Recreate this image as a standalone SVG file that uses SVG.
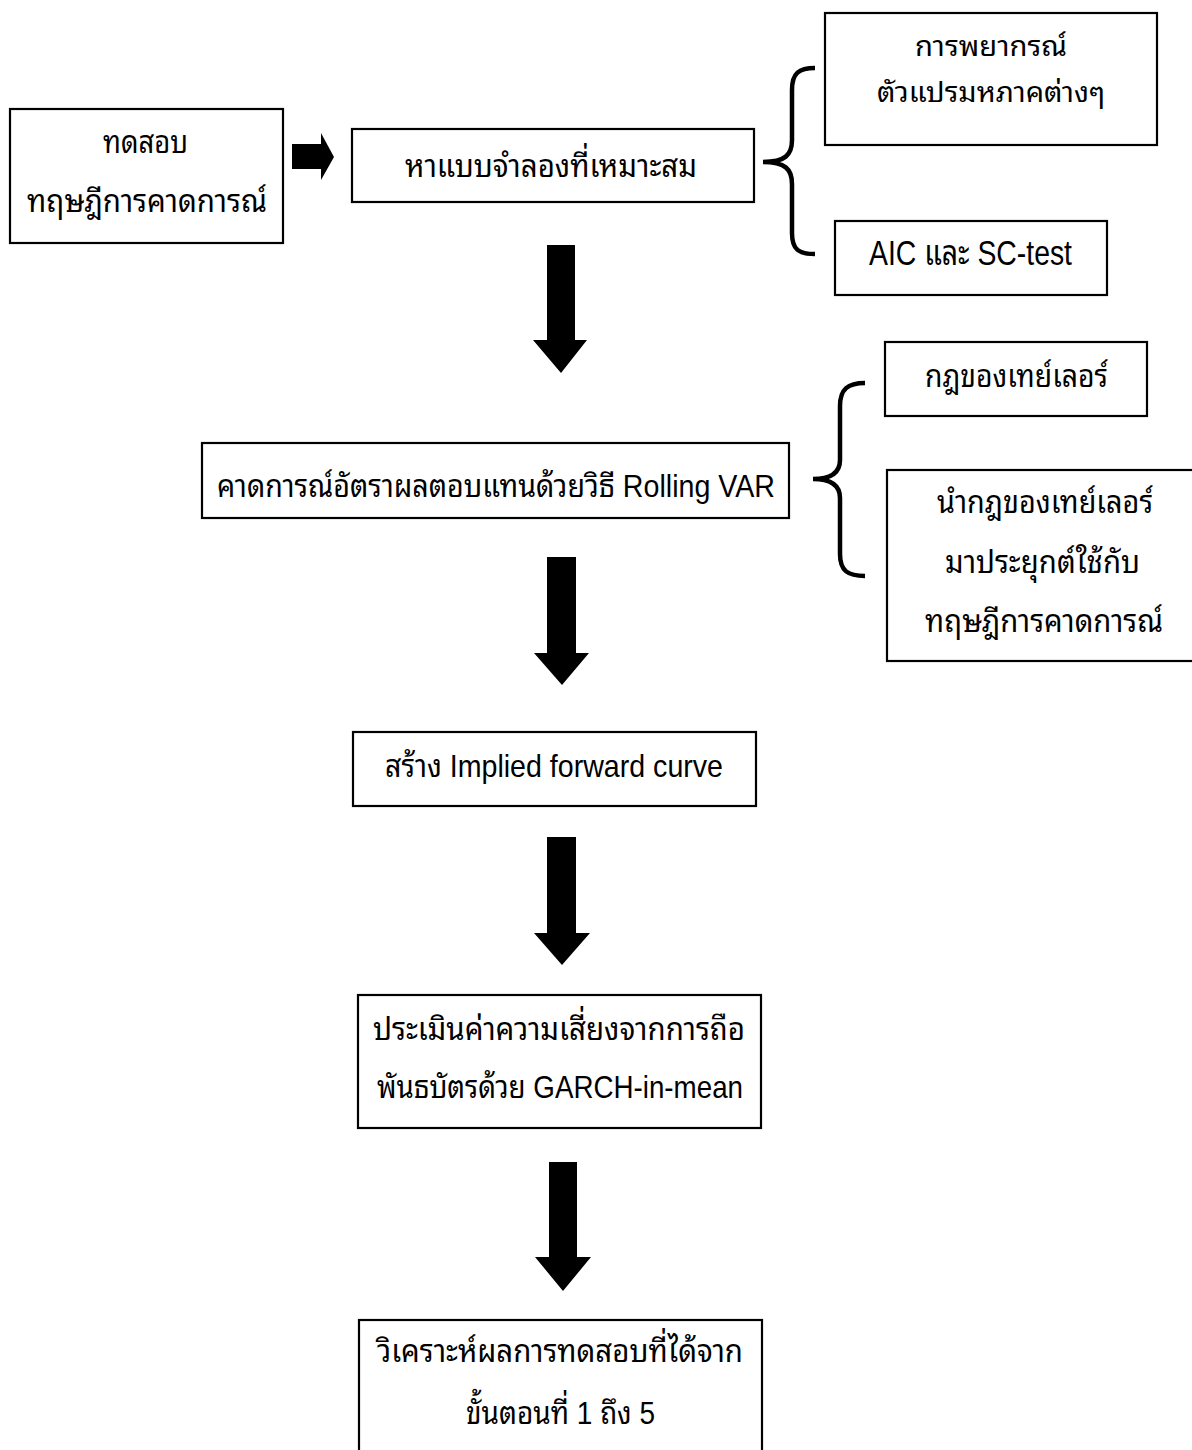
<svg xmlns="http://www.w3.org/2000/svg" width="1192" height="1450" viewBox="0 0 1192 1450">
<style>
.bg{fill:#fff}
.box{fill:#fff;stroke:#000;stroke-width:2.2}
.th{font-family:"Noto Sans Thai Looped","Loma","Garuda","Noto Sans Thai","Noto Sans","DejaVu Sans",sans-serif;font-size:32px;fill:#000}
.mix{font-family:"Liberation Sans","Noto Sans Thai Looped","Loma","Garuda","Noto Sans Thai",sans-serif;font-size:32px;fill:#000}
.arrow{fill:#000;stroke:none}
.brace{fill:none;stroke:#000;stroke-width:4.5;stroke-linecap:butt}
</style>
<rect class="bg" x="0" y="0" width="1192" height="1450"/>

<g id="connectors">
  <polygon class="arrow" points="292,144 321,144 321,133 334,157 321,180 321,169 292,169"/>
  <path class="brace" d="M815,68 C799,68 792,73 792,90 L792,140 C792,155 785,162 763,162 C785,162 792,169 792,184 L792,233 C792,250 799,254 815,254"/>
  <polygon class="arrow" points="547,245 575,245 575,340 587,340 561,373 533,340 547,340"/>
  <path class="brace" d="M865,383 C848,383 840,389 840,406 L840,460 C840,472 832,479 813,479 C832,479 840,486 840,498 L840,554 C840,571 848,576 865,576"/>
  <polygon class="arrow" points="547,557 576,557 576,653 589,653 562,685 534,653 547,653"/>
  <polygon class="arrow" points="547,837 576,837 576,933 590,933 562,965 534,933 547,933"/>
  <polygon class="arrow" points="549,1162 577,1162 577,1257 591,1257 563,1291 535,1257 549,1257"/>
</g>

<g id="node-test">
  <rect class="box" x="10" y="109" width="273" height="134"/>
  <text class="th" x="103" y="153" textLength="85" lengthAdjust="spacingAndGlyphs">ทดสอบ</text>
  <text class="th" x="27" y="212" textLength="240" lengthAdjust="spacingAndGlyphs">ทฤษฎีการคาดการณ์</text>
</g>

<g id="node-model">
  <rect class="box" x="352" y="129" width="402" height="73"/>
  <text class="th" x="405" y="177" textLength="292" lengthAdjust="spacingAndGlyphs">หาแบบจำลองที่เหมาะสม</text>
</g>

<g id="node-forecast">
  <rect class="box" x="825" y="13" width="332" height="132"/>
  <text class="th" x="915" y="56" style="font-size:28px" textLength="152" lengthAdjust="spacingAndGlyphs">การพยากรณ์</text>
  <text class="th" x="877" y="102" style="font-size:28px" textLength="228" lengthAdjust="spacingAndGlyphs">ตัวแปรมหภาคต่างๆ</text>
</g>

<g id="node-aic">
  <rect class="box" x="835" y="221" width="272" height="74"/>
  <text class="mix" x="869" y="265" style="font-size:35px" textLength="203" lengthAdjust="spacingAndGlyphs">AIC และ SC-test</text>
</g>

<g id="node-rolling">
  <rect class="box" x="202" y="443" width="587" height="75"/>
  <text class="mix" x="217" y="497" textLength="558" lengthAdjust="spacingAndGlyphs">คาดการณ์อัตราผลตอบแทนด้วยวิธี Rolling VAR</text>
</g>

<g id="node-taylor">
  <rect class="box" x="885" y="342" width="262" height="74"/>
  <text class="th" x="925" y="387" textLength="183" lengthAdjust="spacingAndGlyphs">กฎของเทย์เลอร์</text>
</g>

<g id="node-apply">
  <rect class="box" x="887" y="470" width="310" height="191"/>
  <text class="th" x="937" y="513" textLength="216" lengthAdjust="spacingAndGlyphs">นำกฎของเทย์เลอร์</text>
  <text class="th" x="945" y="573" textLength="195" lengthAdjust="spacingAndGlyphs">มาประยุกต์ใช้กับ</text>
  <text class="th" x="925" y="632" textLength="238" lengthAdjust="spacingAndGlyphs">ทฤษฎีการคาดการณ์</text>
</g>

<g id="node-curve">
  <rect class="box" x="353" y="732" width="403" height="74"/>
  <text class="mix" x="385" y="777" textLength="338" lengthAdjust="spacingAndGlyphs">สร้าง Implied forward curve</text>
</g>

<g id="node-garch">
  <rect class="box" x="358" y="995" width="403" height="133"/>
  <text class="th" x="373" y="1040" textLength="372" lengthAdjust="spacingAndGlyphs">ประเมินค่าความเสี่ยงจากการถือ</text>
  <text class="mix" x="377" y="1098" textLength="366" lengthAdjust="spacingAndGlyphs">พันธบัตรด้วย GARCH-in-mean</text>
</g>

<g id="node-analysis">
  <rect class="box" x="359" y="1320" width="403" height="150"/>
  <text class="th" x="377" y="1362" textLength="366" lengthAdjust="spacingAndGlyphs">วิเคราะห์ผลการทดสอบที่ได้จาก</text>
  <text class="mix" x="466" y="1424" textLength="189" lengthAdjust="spacingAndGlyphs">ขั้นตอนที่ 1 ถึง 5</text>
</g>
</svg>
